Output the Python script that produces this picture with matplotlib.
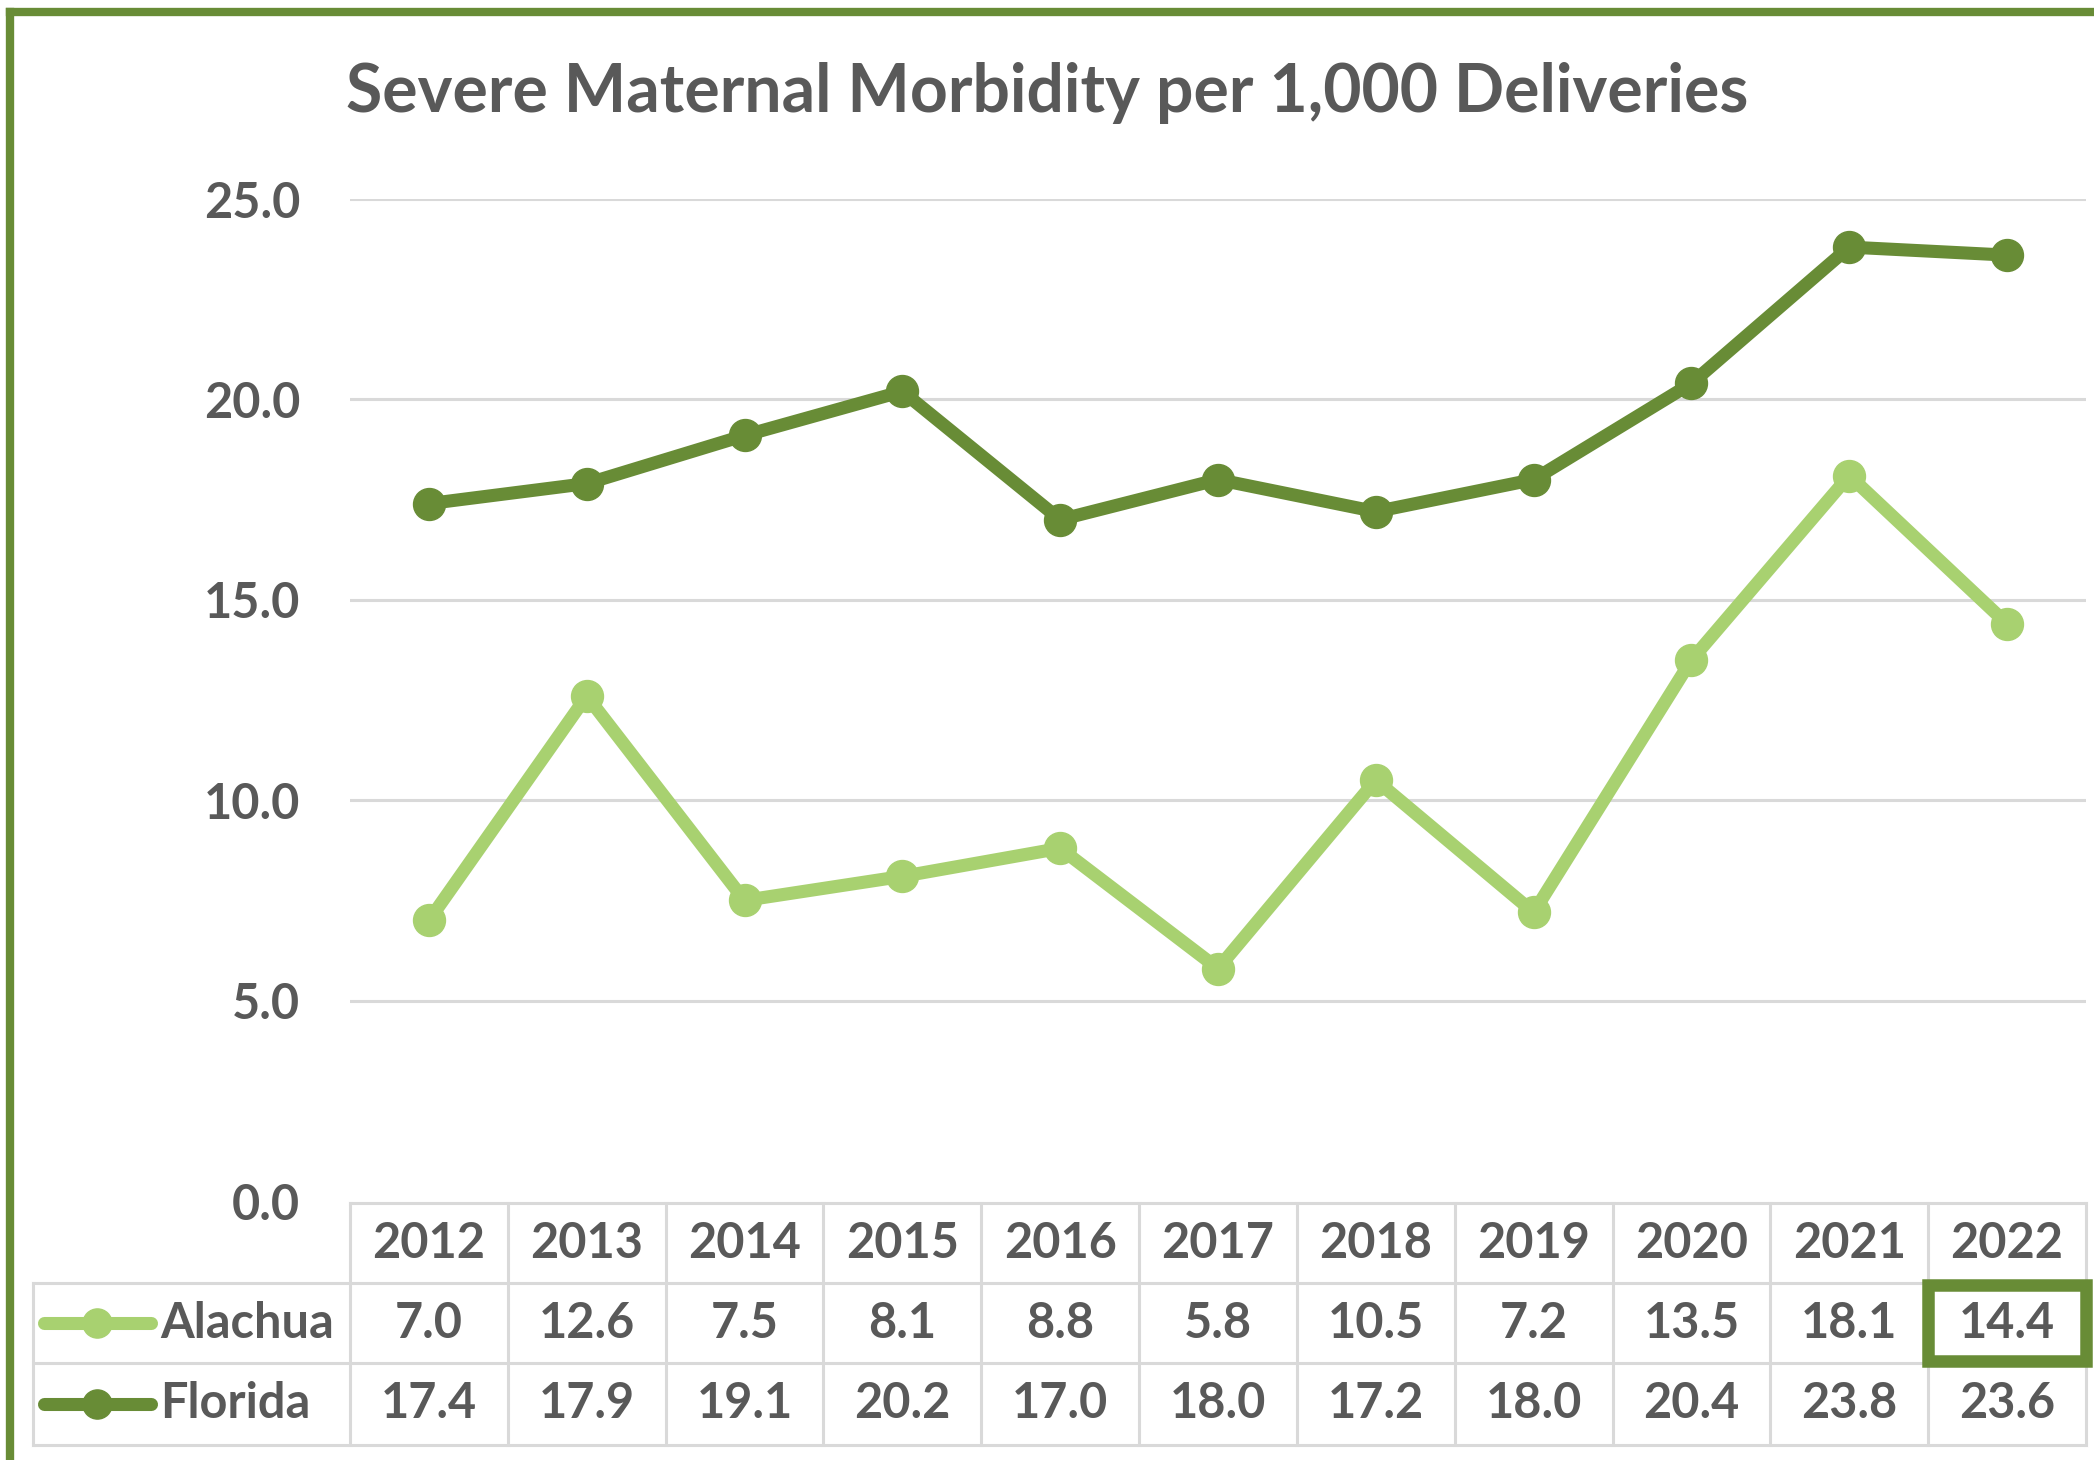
import matplotlib
matplotlib.use('Agg')
import matplotlib.pyplot as plt
import matplotlib.transforms as mtransforms
from matplotlib.lines import Line2D
from matplotlib.patches import Rectangle

plt.rcParams['font.family'] = ['Lato', 'DejaVu Sans']
plt.rcParams['font.weight'] = 'bold'

# data
years = ['2012', '2013', '2014', '2015', '2016', '2017', '2018', '2019', '2020', '2021', '2022']
alachua = [7.0, 12.6, 7.5, 8.1, 8.8, 5.8, 10.5, 7.2, 13.5, 18.1, 14.4]
florida = [17.4, 17.9, 19.1, 20.2, 17.0, 18.0, 17.2, 18.0, 20.4, 23.8, 23.6]
series_names = ['Alachua', 'Florida']
yticks = [0, 5, 10, 15, 20, 25]

W, H = 2094, 1460
light = '#A8D170'
dark = '#688C36'
txt = '#595959'
gridc = '#D9D9D9'

fig = plt.figure(figsize=(W / 100, H / 100), dpi=100)

def fx(px):
    return px / W

def fy(py):
    return 1 - py / H

# plot area in pixels
left, right, top, bottom = 350, 2086, 199, 1201
ax = fig.add_axes([fx(left), fy(bottom), fx(right - left), (bottom - top) / H])
x = list(range(len(years)))
ax.set_xlim(-0.5, len(years) - 0.5)
ax.set_ylim(0, 25)
for v in yticks[1:]:
    ax.axhline(v, color=gridc, lw=2.2, zorder=1)
ax.plot(x, alachua, color=light, lw=9.4, marker='o', ms=23, solid_joinstyle='round', zorder=3)
ax.plot(x, florida, color=dark, lw=9.4, marker='o', ms=23, solid_joinstyle='round', zorder=3)
ax.set_yticks(yticks)
ax.set_yticklabels([f'{v:.1f}' for v in yticks], fontsize=35, color=txt)
ax.tick_params(axis='y', length=0, pad=36)
ax.set_xticks([])
for s in ax.spines.values():
    s.set_visible(False)
ax.patch.set_alpha(0)

# data table below the plot
tr = mtransforms.blended_transform_factory(ax.transData, fig.transFigure)
t_top, r1, r2, t_bot = 1203, 1283, 1363, 1445
leg_left = 33
lkw = dict(color=gridc, lw=2.2, zorder=2)

fig.add_artist(Line2D([-0.5, len(years) - 0.5], [fy(t_top)] * 2, transform=tr, **lkw))
for yy in (r1, r2, t_bot):
    fig.add_artist(Line2D([fx(leg_left), fx(right)], [fy(yy)] * 2, transform=fig.transFigure, **lkw))
fig.add_artist(Line2D([fx(leg_left)] * 2, [fy(r1), fy(t_bot)], transform=fig.transFigure, **lkw))
for i in range(len(years) + 1):
    fig.add_artist(Line2D([i - 0.5] * 2, [fy(t_top), fy(t_bot)], transform=tr, **lkw))

fs = 35
for i, yr in enumerate(years):
    fig.text(i, fy((t_top + r1) / 2), yr, transform=tr, ha='center', va='center', fontsize=fs, color=txt)
rows = [(alachua, light, (r1 + r2) / 2), (florida, dark, (r2 + t_bot) / 2)]
for (vals, c, yc), name in zip(rows, series_names):
    for i, v in enumerate(vals):
        fig.text(i, fy(yc), f'{v:.1f}', transform=tr, ha='center', va='center', fontsize=fs, color=txt)
    fig.add_artist(Line2D([fx(44), fx(151)], [fy(yc)] * 2, transform=fig.transFigure,
                          color=c, lw=9.4, solid_capstyle='round'))
    fig.add_artist(Line2D([fx(97)], [fy(yc)], transform=fig.transFigure, color=c,
                          marker='o', ms=21, lw=0))
    fig.text(fx(160), fy(yc), name, ha='left', va='center', fontsize=fs, color=txt)

# highlight last Alachua value
fig.add_artist(Rectangle((len(years) - 1.5, fy(r2 - 2)), 1.0, (r2 - r1 - 4) / H, transform=tr,
                         fill=False, edgecolor=dark, lw=9, zorder=5))

# title
fig.text(0.5, fy(93), 'Severe Maternal Morbidity per 1,000 Deliveries', ha='center', va='center',
         fontsize=47.5, color=txt)

# outer frame (top and left edges visible)
fig.add_artist(Line2D([fx(10), 1], [fy(12)] * 2, transform=fig.transFigure, color=dark, lw=6))
fig.add_artist(Line2D([fx(10)] * 2, [fy(12), 0], transform=fig.transFigure, color=dark, lw=6))

fig.savefig('out.png', dpi=100)
